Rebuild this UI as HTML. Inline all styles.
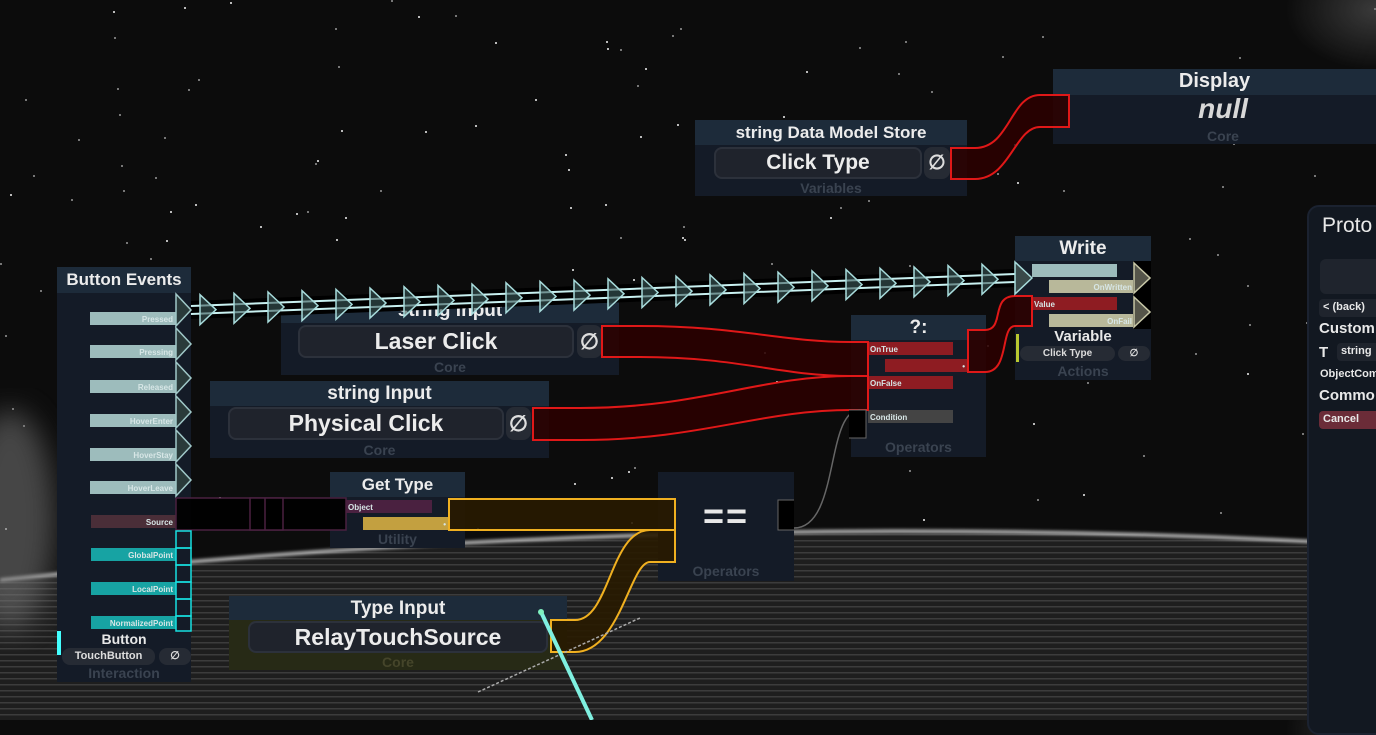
<!DOCTYPE html>
<html><head><meta charset="utf-8"><style>
*{margin:0;padding:0;box-sizing:border-box}
body{width:1376px;height:720px;overflow:hidden;position:relative;font-family:"Liberation Sans",sans-serif;font-weight:bold;color:#e8e8e8;
background:radial-gradient(ellipse 90px 60px at 1376px 10px,#3a3a3a,transparent),#0c0c0c;}
.abs{position:absolute}
.hdr{position:absolute;background:#1d2b3a;text-align:center;color:#ececec;font-size:19px;line-height:25px}
.body{position:absolute;background:#141b27}
.field{position:absolute;background:#1f232c;border:2px solid #2c313b;border-radius:8px;text-align:center;color:#ececec;font-size:23px}
.cat{position:absolute;text-align:center;color:#3a4350;font-size:14px}
.bar{position:absolute;height:13px;font-size:8px;text-align:right;color:#d7e6e6;padding-right:3px;line-height:15px}
.pill{position:absolute;background:#262b34;border-radius:8px;text-align:center;font-size:11px;color:#ddd}
</style></head><body>
<!-- planet -->
<svg class="abs" style="left:0;top:0" width="1376" height="720">
<defs><pattern id="ln" width="8" height="6" patternUnits="userSpaceOnUse"><rect width="8" height="6" fill="#1e1e1e"/><rect y="0" width="8" height="1.5" fill="#3c3c3c"/></pattern>
<filter id="bl"><feGaussianBlur stdDeviation="14"/></filter><filter id="bl2"><feGaussianBlur stdDeviation="1.5"/></filter></defs>
<g id="stars"></g>
<path d="M0 580 Q 700 505 1376 545 L1376 720 L0 720Z" fill="url(#ln)"/>
<path d="M0 580 Q 700 505 1376 545" stroke="#cfcfcf" stroke-width="3" fill="none" filter="url(#bl2)"/>
<ellipse cx="10" cy="520" rx="45" ry="110" fill="#777" opacity=".55" filter="url(#bl)"/>
</svg>

<!-- Button Events -->
<div class="hdr" style="left:57px;top:267px;width:134px;height:26px;font-size:17px">Button Events</div>
<div class="body" style="left:57px;top:293px;width:134px;height:389px"></div>
<div class="bar" style="left:90px;top:312px;width:86px;background:#9dbcbc">Pressed</div>
<div class="bar" style="left:90px;top:345px;width:86px;background:#9dbcbc">Pressing</div>
<div class="bar" style="left:90px;top:380px;width:86px;background:#9dbcbc">Released</div>
<div class="bar" style="left:90px;top:414px;width:86px;background:#9dbcbc">HoverEnter</div>
<div class="bar" style="left:90px;top:448px;width:86px;background:#9dbcbc">HoverStay</div>
<div class="bar" style="left:90px;top:481px;width:86px;background:#9dbcbc">HoverLeave</div>
<div class="bar" style="left:91px;top:515px;width:85px;background:#4a2e38">Source</div>
<div class="bar" style="left:91px;top:548px;width:85px;background:#17a3a3">GlobalPoint</div>
<div class="bar" style="left:91px;top:582px;width:85px;background:#17a3a3">LocalPoint</div>
<div class="bar" style="left:91px;top:616px;width:85px;background:#17a3a3">NormalizedPoint</div>
<div class="abs" style="left:57px;top:631px;width:4px;height:24px;background:#4ff"></div>
<div class="abs" style="left:57px;top:631px;width:134px;text-align:center;font-size:14px">Button</div>
<div class="pill" style="left:62px;top:648px;width:93px;height:17px;line-height:17px">TouchButton</div>
<div class="pill" style="left:159px;top:648px;width:32px;height:17px;line-height:17px">∅</div>
<div class="cat" style="left:57px;top:665px;width:134px">Interaction</div>

<!-- string Data Model Store -->
<div class="hdr" style="left:695px;top:120px;width:272px;height:25px;font-size:17px">string Data Model Store</div>
<div class="body" style="left:695px;top:145px;width:272px;height:51px"></div>
<div class="field" style="left:714px;top:147px;width:208px;height:32px;line-height:28px;font-size:21px">Click Type</div>
<div class="pill" style="left:924px;top:147px;width:26px;height:32px;line-height:32px;font-size:20px">∅</div>
<div class="cat" style="left:695px;top:180px;width:272px">Variables</div>

<!-- Display -->
<div class="hdr" style="left:1053px;top:69px;width:323px;height:26px;font-size:20px">Display</div>
<div class="body" style="left:1053px;top:95px;width:323px;height:49px"></div>
<div class="abs" style="left:1053px;top:93px;width:340px;text-align:center;font-size:28px;font-style:italic;color:#d8d8d8">null</div>
<div class="cat" style="left:1053px;top:128px;width:340px">Core</div>

<!-- Laser click -->
<div class="hdr" style="left:281px;top:298px;width:338px;height:25px">string Input</div>
<div class="body" style="left:281px;top:323px;width:338px;height:52px"></div>
<div class="field" style="left:298px;top:325px;width:276px;height:33px;line-height:29px">Laser Click</div>
<div class="pill" style="left:577px;top:325px;width:25px;height:33px;line-height:33px;font-size:22px">∅</div>
<div class="cat" style="left:281px;top:359px;width:338px">Core</div>

<!-- Physical click -->
<div class="hdr" style="left:210px;top:381px;width:339px;height:25px">string Input</div>
<div class="body" style="left:210px;top:406px;width:339px;height:52px"></div>
<div class="field" style="left:228px;top:407px;width:276px;height:33px;line-height:29px">Physical Click</div>
<div class="pill" style="left:506px;top:407px;width:25px;height:33px;line-height:33px;font-size:22px">∅</div>
<div class="cat" style="left:210px;top:442px;width:339px">Core</div>

<!-- ?: -->
<div class="hdr" style="left:851px;top:315px;width:135px;height:25px">?:</div>
<div class="body" style="left:851px;top:340px;width:135px;height:117px"></div>
<div class="bar" style="left:868px;top:342px;width:85px;background:#8e1c22;text-align:left;padding-left:2px">OnTrue</div>
<div class="bar" style="left:885px;top:359px;width:83px;background:#8e1c22">•</div>
<div class="bar" style="left:868px;top:376px;width:85px;background:#8e1c22;text-align:left;padding-left:2px">OnFalse</div>
<div class="bar" style="left:868px;top:410px;width:85px;background:#444;text-align:left;padding-left:2px">Condition</div>
<div class="cat" style="left:851px;top:439px;width:135px">Operators</div>

<!-- Write -->
<div class="hdr" style="left:1015px;top:236px;width:136px;height:25px">Write</div>
<div class="body" style="left:1015px;top:261px;width:136px;height:119px"></div>
<div class="bar" style="left:1032px;top:264px;width:85px;background:#9dbcbc"></div>
<div class="bar" style="left:1049px;top:280px;width:86px;background:#b8b89a">OnWritten</div>
<div class="bar" style="left:1032px;top:297px;width:85px;background:#8e1c22;text-align:left;padding-left:2px">Value</div>
<div class="bar" style="left:1049px;top:314px;width:86px;background:#b8b89a">OnFail</div>
<svg class="abs" style="left:1133px;top:261px" width="18" height="68"><rect width="18" height="68" fill="#000"/><path d="M1 2 L17 17 L1 32Z M1 36 L17 51 L1 66Z" fill="#55554a" stroke="#c8c8a8" stroke-width="1.5"/></svg>
<div class="abs" style="left:1015px;top:328px;width:136px;text-align:center;font-size:15px">Variable</div>
<div class="abs" style="left:1016px;top:334px;width:3px;height:28px;background:#b8c830"></div>
<div class="pill" style="left:1020px;top:346px;width:95px;height:15px;line-height:15px;font-size:10px">Click Type</div>
<div class="pill" style="left:1118px;top:346px;width:32px;height:15px;line-height:15px;font-size:10px">∅</div>
<div class="cat" style="left:1015px;top:363px;width:136px">Actions</div>

<!-- Get Type -->
<div class="hdr" style="left:330px;top:472px;width:135px;height:25px;font-size:17px">Get Type</div>
<div class="body" style="left:330px;top:497px;width:135px;height:51px"></div>
<div class="bar" style="left:346px;top:500px;width:86px;background:#4a2140;text-align:left;padding-left:2px;font-size:8px">Object</div>
<div class="bar" style="left:363px;top:517px;width:86px;background:#c3a040">•</div>
<div class="cat" style="left:330px;top:531px;width:135px">Utility</div>

<!-- == -->
<div class="body" style="left:658px;top:472px;width:136px;height:109px"></div>
<div class="abs" style="left:658px;top:495px;width:136px;text-align:center;font-size:36px;letter-spacing:2px">==</div>
<div class="cat" style="left:658px;top:563px;width:136px">Operators</div>

<!-- Type Input -->
<div class="hdr" style="left:229px;top:596px;width:338px;height:24px">Type Input</div>
<div class="abs" style="left:229px;top:620px;width:338px;height:50px;background:#272a16"></div>
<div class="field" style="left:248px;top:621px;width:300px;height:32px;line-height:28px">RelayTouchSource</div>
<div class="cat" style="left:229px;top:654px;width:338px;color:#45452a">Core</div>

<!-- right panel -->
<div class="abs" style="left:1307px;top:205px;width:80px;height:530px;background:#121821;border-radius:12px;border:2px solid #1b2230"></div>
<div class="abs" style="left:1322px;top:214px;font-size:21px;font-weight:normal">Proto</div>
<div class="abs" style="left:1320px;top:259px;width:70px;height:35px;background:#1f242d;border-radius:6px"></div>
<div class="abs" style="left:1319px;top:299px;width:70px;height:18px;background:#1f242d;border-radius:4px;font-size:11px;padding:2px 4px">&lt; (back)</div>
<div class="abs" style="left:1319px;top:320px;font-size:15px">Custom</div>
<div class="abs" style="left:1319px;top:344px;font-size:15px">T</div>
<div class="abs" style="left:1337px;top:343px;width:50px;height:18px;background:#1f242d;border-radius:4px;font-size:11px;padding:2px 4px">string</div>
<div class="abs" style="left:1320px;top:368px;font-size:11px">ObjectCom</div>
<div class="abs" style="left:1319px;top:387px;font-size:15px">Commo</div>
<div class="abs" style="left:1319px;top:411px;width:70px;height:18px;background:#6b2c38;border-radius:4px;font-size:11px;padding:2px 4px">Cancel</div>

<!-- wires -->
<svg id="w" class="abs" style="left:0;top:0" width="1376" height="720">
<g fill="rgba(45,0,0,0.85)" stroke="#e01818" stroke-width="2">
<path d="M951 148 L975 148 C1010 148 1010 95 1040 95 L1069 95 L1069 127 L1040 127 C1015 127 1010 179 975 179 L951 179Z"/>
<path d="M602 326 L640 326 C740 326 780 342 851 342 L868 342 L868 376 L851 376 C780 376 740 357 640 357 L602 357Z"/>
<path d="M533 408 L580 408 C700 408 760 376 851 376 L868 376 L868 410 L851 410 C760 410 700 440 580 440 L533 440Z"/>
<path d="M968 330 L985 330 C1005 330 990 296 1015 296 L1032 296 L1032 326 L1015 326 C1000 326 1010 372 985 372 L968 372Z"/>
</g>
<g fill="rgba(0,0,0,0.9)" stroke="#4a2140" stroke-width="1.5">
<path d="M176 498 L346 498 L346 530 L176 530Z"/>
<path d="M250 498 L283 498 L283 530 L250 530Z M265 498 L265 530"/>
</g>
<path d="M794 500 L778 500 L778 530 L794 530" fill="#000" stroke="#666"/>
<path d="M794 528 C840 528 825 410 860 410" stroke="#666" stroke-width="1.5" fill="none"/>
<path d="M849 410 L866 410 L866 438 L849 438" fill="#000" stroke="#666"/>
<g fill="rgba(40,25,0,0.9)" stroke="#f0b020" stroke-width="2">
<path d="M449 499 L675 499 L675 530 L449 530Z"/>
<path d="M551 620 L575 620 C610 620 610 530 650 530 L675 530 L675 562 L650 562 C630 562 620 652 575 652 L551 652Z"/>
</g>
<line x1="478" y1="692" x2="640" y2="618" stroke="#aaa" stroke-width="1.5" stroke-dasharray="3 2"/>
<line x1="541" y1="612" x2="592" y2="720" stroke="#7ff0e0" stroke-width="4"/>
<circle cx="541" cy="612" r="3" fill="#7ff0c0"/>
<g id="imp"></g>
<g fill="#2a3a3a" stroke="#a0c8c8" stroke-width="1.5">
<path d="M176 294 L191 310 L176 326Z"/><path d="M176 328 L191 344 L176 360Z"/><path d="M176 362 L191 378 L176 394Z"/><path d="M176 396 L191 412 L176 428Z"/><path d="M176 430 L191 446 L176 462Z"/><path d="M176 464 L191 480 L176 496Z"/>
</g>
<g fill="none" stroke="#17e0e0" stroke-width="1.5">
<rect x="176" y="531" width="15" height="17"/><rect x="176" y="548" width="15" height="17"/><rect x="176" y="565" width="15" height="17"/><rect x="176" y="582" width="15" height="17"/><rect x="176" y="599" width="15" height="17"/><rect x="176" y="616" width="15" height="15"/>
</g>
</svg>
<script>
var g=document.getElementById('imp'),s='';
var x1=191,y1=310,x2=1015,y2=278;
s+='<path d="M'+x1+' '+(y1-9)+' L'+x2+' '+(y2-9)+' L'+x2+' '+(y2+9)+' L'+x1+' '+(y1+9)+'Z" fill="#000"/>';
s+='<line x1="'+x1+'" y1="'+(y1-4)+'" x2="'+x2+'" y2="'+(y2-4)+'" stroke="#c8f0f0" stroke-width="2"/>';
s+='<line x1="'+x1+'" y1="'+(y1+4)+'" x2="'+x2+'" y2="'+(y2+4)+'" stroke="#c8f0f0" stroke-width="2"/>';
for(var x=200;x<1015;x+=34){var y=y1+(y2-y1)*(x-x1)/(x2-x1);
s+='<path d="M'+x+' '+(y-15)+' L'+(x+16)+' '+y+' L'+x+' '+(y+15)+'Z" fill="rgba(60,90,90,.6)" stroke="#a8dcdc" stroke-width="1.5"/>';}
s+='<path d="M1015 262 L1032 278 L1015 294Z" fill="#3a4a4a" stroke="#a8dcdc" stroke-width="1.5"/>';
g.innerHTML=s;
var st='',seed=7;function r(){seed=(seed*9301+49297)%233280;return seed/233280;}
for(var i=0;i<160;i++){st+='<rect x="'+(r()*1376).toFixed(0)+'" y="'+(r()*540).toFixed(0)+'" width="2" height="2" fill="#'+(r()>.5?'bbb':'777')+'"/>';}
document.getElementById('stars').innerHTML=st;
</script>
</body></html>
